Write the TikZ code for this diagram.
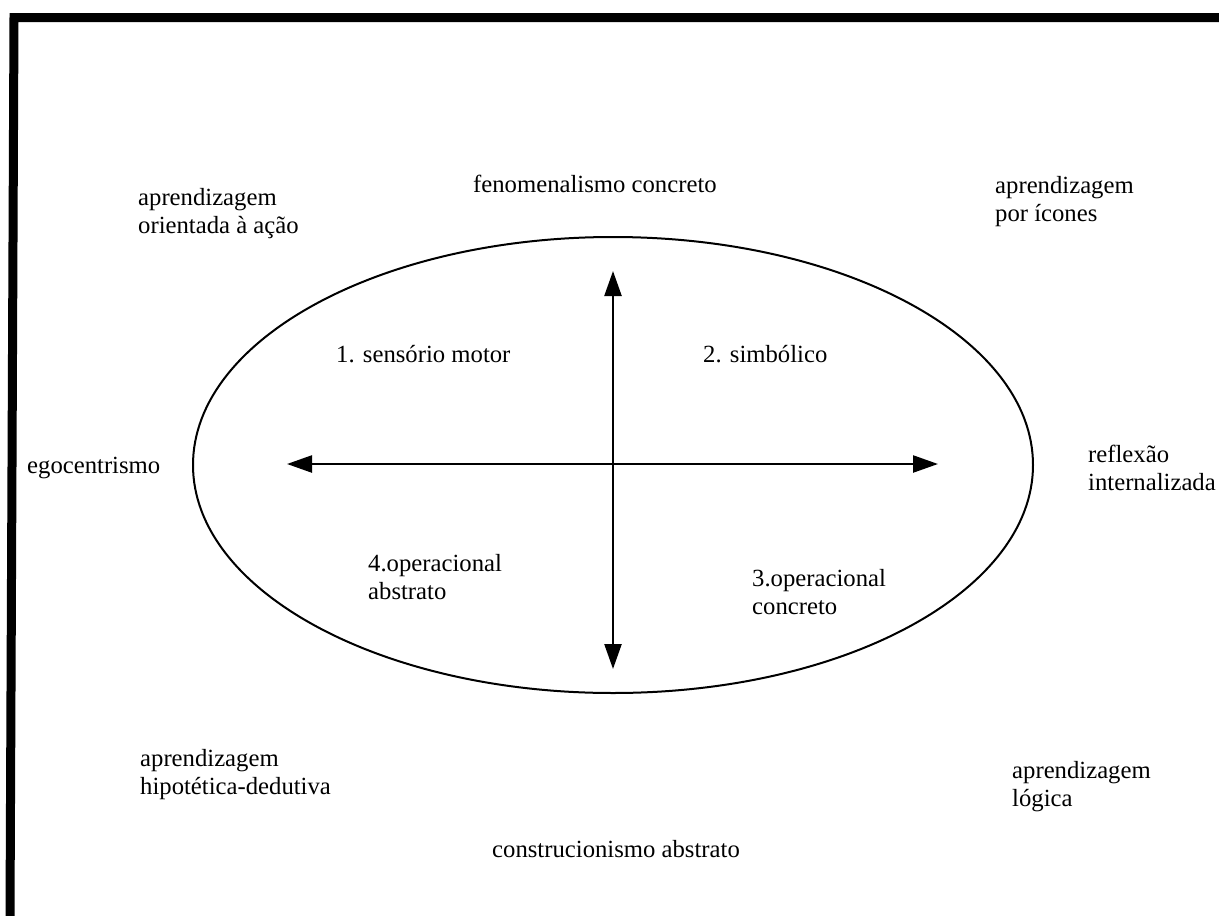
\documentclass[tikz,border=0pt]{standalone}
\usepackage{fontspec}
\setmainfont{Liberation Serif}
\usetikzlibrary{arrows.meta,shapes.geometric}
\begin{document}
\begin{tikzpicture}[x=1pt,y=-1pt,
  txt/.style={inner sep=0pt, font=\fontsize{24.7}{28}\selectfont},
  lbl/.style={txt, align=left, anchor=north west},
  one/.style={txt, anchor=base west},
  axisline/.style={line width=2.4pt, >={Triangle[length=25pt,width=17pt]}, <->},
  stage/.style={draw, line width=2pt, ellipse, inner sep=0pt,
    minimum width=840pt, minimum height=456pt}]
  \useasboundingbox (0,0) rectangle (1219,916);
  % frame (top and left edges of the page)
  \draw[line width=9pt, line join=miter] (10,916) -- (14,17.5) -- (1219,17.5);

  % the four-stage ellipse
  \node[stage] (cycle) at (613,465) {};

  % axes
  \coordinate (top) at (613,271);
  \coordinate (bottom) at (613,669);
  \coordinate (left) at (287,464);
  \coordinate (right) at (938,464);
  \draw[axisline] (top) -- (bottom);
  \draw[axisline] (left) -- (right);

  % labels outside the ellipse
  \node[lbl] (tl) at (138,188) {aprendizagem\\orientada à ação};
  \node[one] (fen) at (473,192) {fenomenalismo concreto};
  \node[lbl] (tr) at (995,176) {aprendizagem\\por ícones};
  \node[one] (ego) at (27,473) {egocentrismo};
  \node[lbl] (refl) at (1088,445) {reflexão\\internalizada};
  \node[lbl] (bl) at (140,749) {aprendizagem\\hipotética-dedutiva};
  \node[lbl] (br) at (1012,761) {aprendizagem\\lógica};
  \node[one] (cons) at (492,857) {construcionismo abstrato};

  % stage labels
  \node[one] (s1) at (336,362) {1. sensório motor};
  \node[one] (s2) at (703,362) {2. simbólico};
  \node[lbl] (s4) at (368,554) {4.operacional\\abstrato};
  \node[lbl] (s3) at (752,569) {3.operacional\\concreto};
\end{tikzpicture}
\end{document}
